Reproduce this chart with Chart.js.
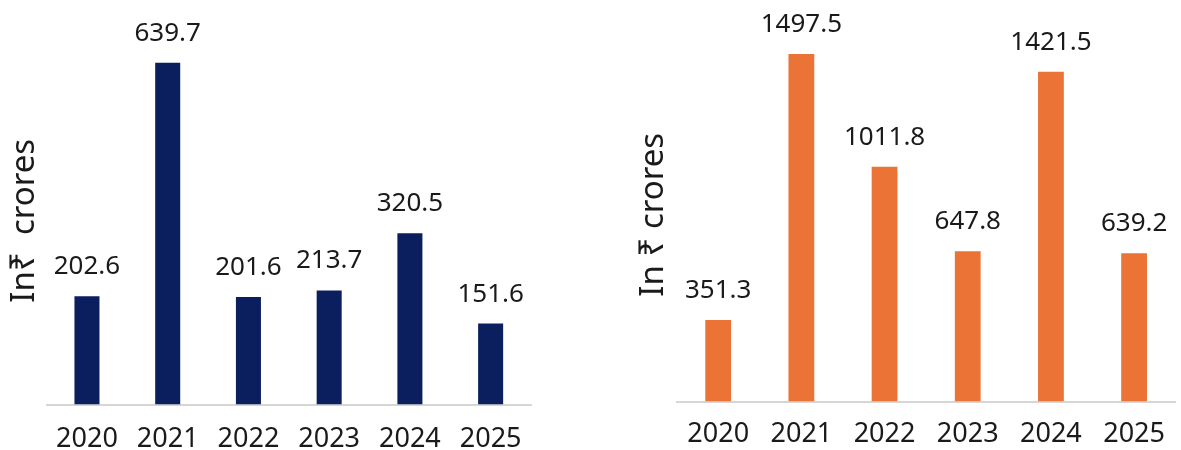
<!DOCTYPE html>
<html>
<head>
<meta charset="utf-8">
<script src="https://cdn.jsdelivr.net/npm/chart.js@4"></script>
<style>
  html, body { margin: 0; padding: 0; background: #fff; overflow: hidden; }
  #wrap { position: relative; width: 1181px; height: 450px; overflow: hidden; }
  .panel { position: absolute; top: 0; }
  #left { left: 0; width: 570px; height: 483px; }
  #right { left: 600px; width: 582px; height: 471px; }
</style>
</head>
<body>
<div id="wrap">
  <div class="panel" id="left"><canvas id="leftChart"></canvas></div>
  <div class="panel" id="right"><canvas id="rightChart"></canvas></div>
</div>
<script>
const years = ['2020', '2021', '2022', '2023', '2024', '2025'];
const leftValues = [202.6, 639.7, 201.6, 213.7, 320.5, 151.6];
const rightValues = [351.3, 1497.5, 1011.8, 647.8, 1421.5, 639.2];
const leftTitle = 'In\u20B9  crores';
const rightTitle = 'In \u20B9 crores';

const FONT = "'Noto Sans', 'DejaVu Sans', sans-serif";
const TEXT = '#1a1a1a';

// rótulos de valor acima de cada barra
const valueLabels = {
    id: 'valueLabels',
    afterDatasetsDraw(chart) {
        const ctx = chart.ctx;
        const meta = chart.getDatasetMeta(0);
        const data = chart.data.datasets[0].data;
        ctx.save();
        ctx.font = `26px ${FONT}`;
        ctx.fillStyle = TEXT;
        ctx.textAlign = 'center';
        ctx.textBaseline = 'alphabetic';
        meta.data.forEach((bar, i) => {
            ctx.fillText(data[i].toFixed(1), bar.x, bar.y - 22);
        });
        ctx.restore();
    }
};

function renderBarChart(canvasId, values, color, title, yMax, pad, titlePad, tickPad) {
    const ctx = document.getElementById(canvasId).getContext('2d');
    return new Chart(ctx, {
        type: 'bar',
        data: {
            labels: years,
            datasets: [{ data: values, backgroundColor: color, barPercentage: 0.31, categoryPercentage: 1 }]
        },
        options: {
            responsive: true,
            maintainAspectRatio: false,
            animation: false,
            layout: { padding: pad },
            plugins: { legend: { display: false }, tooltip: { enabled: false } },
            scales: {
                x: {
                    grid: { display: false, drawTicks: false },
                    border: { display: true, color: '#d6d6d6', width: 2 },
                    ticks: { color: TEXT, font: { family: FONT, size: 27 }, padding: tickPad }
                },
                y: {
                    min: 0, max: yMax,
                    grid: { display: false, drawTicks: false },
                    border: { display: false },
                    ticks: { display: false },
                    title: {
                        display: true, text: title, color: TEXT,
                        font: { family: FONT, size: 33 },
                        padding: titlePad
                    }
                }
            }
        },
        plugins: [valueLabels]
    });
}

renderBarChart('leftChart', leftValues, '#0b1f5e', leftTitle, 688,
    { left: 1, right: 39, top: 37, bottom: 8 }, { top: 4, bottom: 2 }, 19);
renderBarChart('rightChart', rightValues, '#ea7335', rightTitle, 1610,
    { left: 30, right: 0, top: 28, bottom: 3 }, { top: 4, bottom: 3 }, 17);
</script>
</body>
</html>
